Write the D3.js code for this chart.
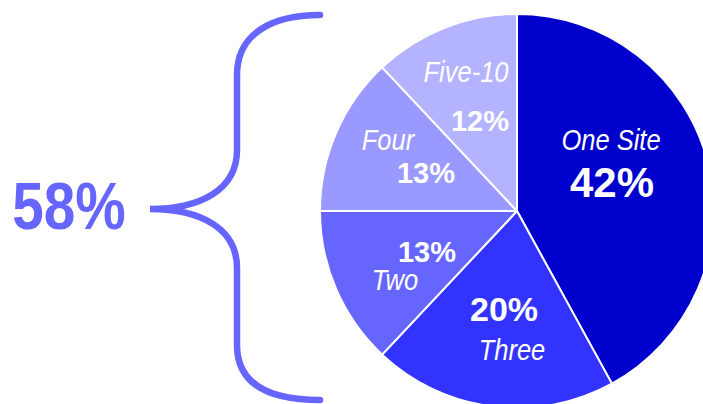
<!DOCTYPE html>
<html>
<head>
<meta charset="utf-8">
<script src="https://cdn.jsdelivr.net/npm/d3@7"></script>
<style>
  html, body { margin: 0; padding: 0; background: #fff; }
  svg { display: block; }
</style>
</head>
<body>
<svg id="chart" width="703" height="404"></svg>
<script>
// Share of respondents by number of sites
const categories = ["One Site", "Three", "Two", "Four", "Five-10"];
const values = [42, 20, 13, 13, 12];
const sliceColors = ["#0000CC", "#3333FF", "#6666FF", "#9999FF", "#B3B3FF"];
const groupedTotal = 58;   // everything except "One Site"

// Label anchors relative to the pie centre: [nameX, nameY, pctX, pctY, pctSize]
const labelLayout = [
  [94, -61, 95, -14, 42],
  [-5, 149, -13, 110, 34],
  [-122, 79, -90, 51, 29],
  [-129, -61, -91, -28, 29],
  [-51, -129, -37, -80, 29]
];

(function draw() {
  const cx = 517, cy = 211, R = 197;
  const svg = d3.select("#chart");

  const pie = d3.pie().sort(null).value(d => d).startAngle(0).endAngle(2 * Math.PI);
  const arc = d3.arc().innerRadius(0).outerRadius(R);
  const color = d3.scaleOrdinal().domain(categories).range(sliceColors);

  const g = svg.append("g").attr("transform", `translate(${cx},${cy})`);
  const arcs = pie(values);

  g.selectAll("path.slice")
    .data(arcs)
    .join("path")
    .attr("class", "slice")
    .attr("d", arc)
    .attr("fill", (d, i) => color(categories[i]))
    .attr("stroke", "#fff")
    .attr("stroke-width", 2)
    .attr("stroke-linejoin", "round");

  const font = "'Liberation Sans', Arial, sans-serif";

  arcs.forEach((d, i) => {
    const [nx, ny, px, py, ps] = labelLayout[i];
    g.append("text")
      .attr("transform", `translate(${nx},${ny}) scale(0.88,1)`)
      .attr("text-anchor", "middle")
      .attr("font-family", font)
      .attr("font-style", "italic")
      .attr("font-size", 29)
      .attr("fill", "#fff")
      .text(categories[i]);
    g.append("text")
      .attr("transform", `translate(${px},${py})`)
      .attr("text-anchor", "middle")
      .attr("font-family", font)
      .attr("font-weight", "bold")
      .attr("font-size", ps)
      .attr("fill", "#fff")
      .text(d.data + "%");
  });

  // Curly brace grouping the smaller slices
  const braceColor = "#6666FF";
  const bx = 237, tipX = 150, tipY = 209, yTop = 15, yBot = 400, endX = 320;
  const brace = d3.path();
  brace.moveTo(endX, yTop);
  brace.bezierCurveTo(270, yTop, bx, 35, bx, 75);
  brace.lineTo(bx, 150);
  brace.bezierCurveTo(bx, 190, 200, tipY, tipX, tipY);
  brace.bezierCurveTo(200, tipY, bx, 228, bx, 268);
  brace.lineTo(bx, 345);
  brace.bezierCurveTo(bx, 385, 270, yBot, endX, yBot);

  svg.append("path")
    .attr("d", brace.toString())
    .attr("fill", "none")
    .attr("stroke", braceColor)
    .attr("stroke-width", 6.5)
    .attr("stroke-linecap", "round");

  svg.append("text")
    .attr("transform", `translate(69,229) scale(0.86,1)`)
    .attr("text-anchor", "middle")
    .attr("font-family", font)
    .attr("font-weight", "bold")
    .attr("font-size", 66)
    .attr("fill", braceColor)
    .text(groupedTotal + "%");
})();
</script>
</body>
</html>
